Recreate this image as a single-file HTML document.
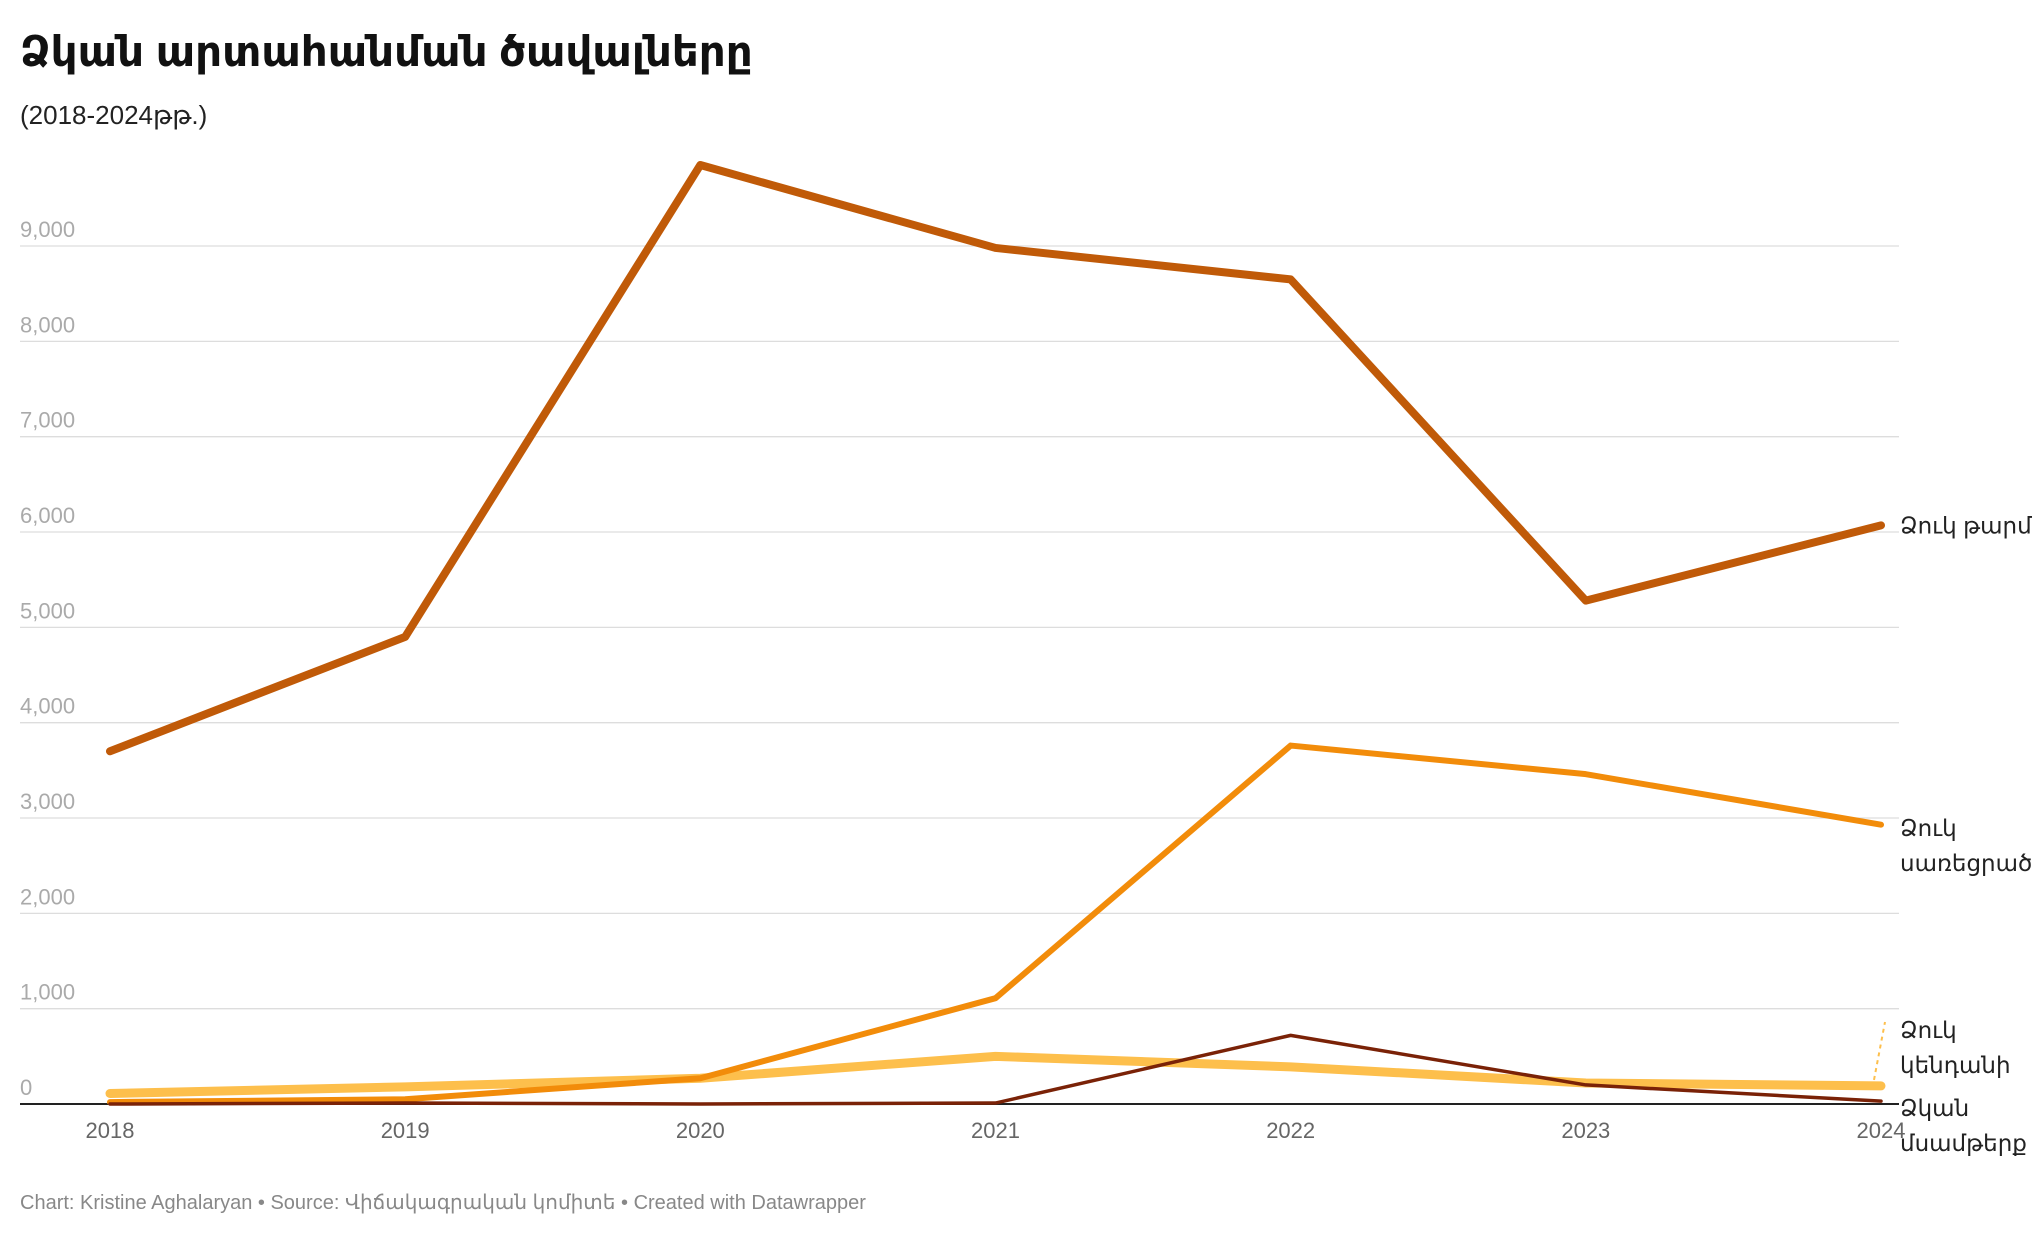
<!DOCTYPE html>
<html><head><meta charset="utf-8"><style>
body{margin:0;background:#fff;font-family:"Liberation Sans","DejaVu Sans",sans-serif;}
svg text{font-family:"Liberation Sans","DejaVu Sans",sans-serif;}
</style></head><body>
<svg id="chart" width="2040" height="1230" xmlns="http://www.w3.org/2000/svg">
<text x="20" y="66" font-size="42" font-weight="bold" fill="#111">Ձկան արտահանման ծավալները</text>
<text x="20" y="124" font-size="26" fill="#222">(2018-2024թթ.)</text>
<g id="grid"></g><g id="lines"></g><g id="labels"></g>
<text x="20" y="1209" font-size="20" fill="#888">Chart: Kristine Aghalaryan • Source: Վիճակագրական կոմիտե • Created with Datawrapper</text>
</svg>
<script>
const years=["2018","2019","2020","2021","2022","2023","2024"];
const yTicks=[0,1000,2000,3000,4000,5000,6000,7000,8000,9000];
const fresh=[3700,4900,9850,8980,8650,5280,6070];
const frozen=[20,50,270,1110,3760,3460,2930];
const live=[110,180,270,500,390,220,190];
const meat=[0,10,0,10,720,200,30];
const NS="http://www.w3.org/2000/svg";
const x0=110,x1=1881,yBase=1104,per=95.33;
const xs=i=>x0+(x1-x0)*i/(years.length-1);
const ys=v=>yBase-v*per/1000;
function mk(t,a,p){const e=document.createElementNS(NS,t);for(const k in a)e.setAttribute(k,a[k]);p.appendChild(e);return e;}
const g=document.getElementById('grid');
yTicks.forEach(v=>{
 const l=mk('line',{x1:20,x2:1899,y1:ys(v),y2:ys(v),stroke:v===0?'#222':'#ddd','stroke-width':v===0?2:1.3},g);
 
 
 const t=mk('text',{x:20,y:ys(v)-9,'font-size':22,fill:'#aaa'},g);
 t.textContent=v.toLocaleString('en-US');
 
 
});
years.forEach((y,i)=>{
 const t=mk('text',{x:xs(i),y:1138,'font-size':22,fill:'#666','text-anchor':'middle'},g);
 t.textContent=y;
 
 
});
const L=document.getElementById('lines');
function series(arr,col,w,name){
 const p=mk('polyline',{points:arr.map((v,i)=>xs(i)+','+ys(v)).join(' '),fill:'none',stroke:col,'stroke-width':w,'stroke-linejoin':'round','stroke-linecap':'round'},L);
 
 
}
series(live,'#fdbf4c',9,'line-fish-live');
series(frozen,'#f28c0a',6,'line-fish-frozen');
series(fresh,'#c05a08',8,'line-fish-fresh');
series(meat,'#7a2207',3.5,'line-fish-meat');
const LB=document.getElementById('labels');
function lab(lines,y0,name){
 const t=mk('text',{x:1900,y:y0,'font-size':23,fill:'#222'},LB);
 
 
 lines.forEach((s,i)=>{const ts=mk('tspan',{x:1900,dy:i?35:0},t);ts.textContent=s;});
}
const d=mk('line',{x1:1874,y1:ys(live[6])-6,x2:1885,y2:1022,stroke:'#fdbf4c','stroke-width':2,'stroke-dasharray':'4,4'},LB);


lab(['Ձուկ թարմ'],ys(fresh[6])+8,'label-fish-fresh');
lab(['Ձուկ','սառեցրած'],836,'label-fish-frozen');
lab(['Ձուկ','կենդանի'],1038,'label-fish-live');
lab(['Ձկան','մսամթերք'],1116,'label-fish-meat');
</script>
</body></html>
